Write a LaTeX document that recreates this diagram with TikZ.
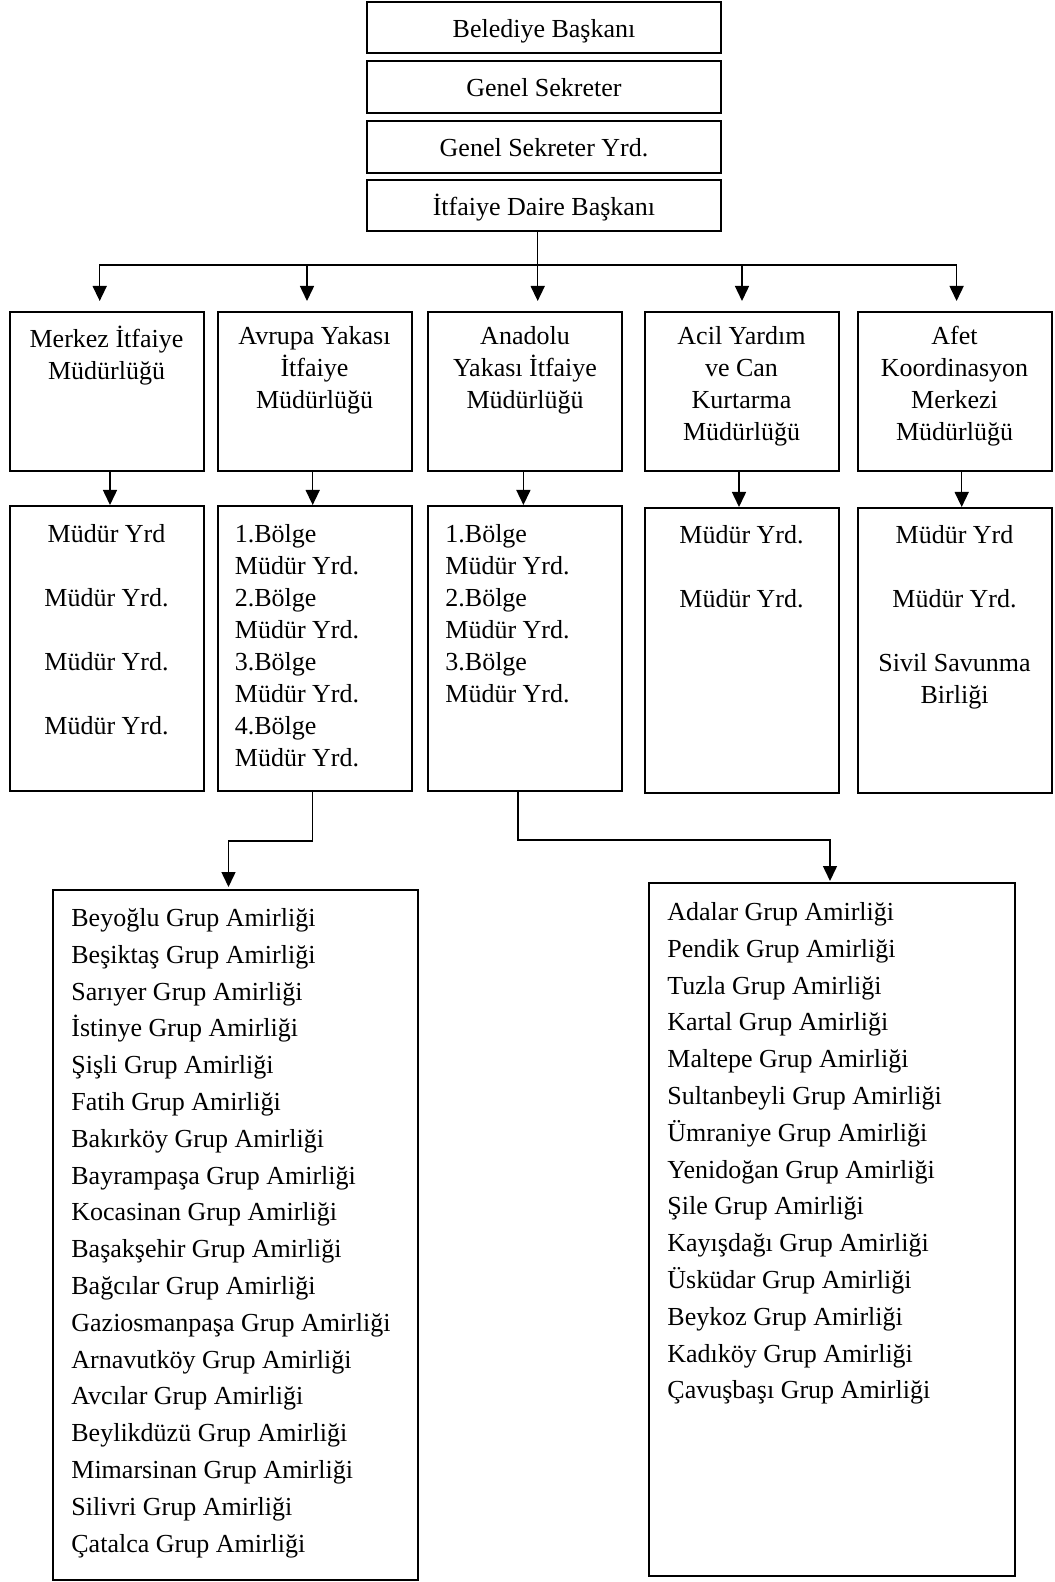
\documentclass[tikz,border=0pt]{standalone}
\usepackage{fontspec}
\setmainfont{Liberation Serif}
\usepackage{tikz}
\usetikzlibrary{arrows.meta}

\begin{document}
\begin{tikzpicture}[x=0.5pt,y=-0.5pt,
	box/.style={draw,line width=1pt,inner sep=0pt},
	topbox/.style={box,minimum width=177pt,minimum height=25.75pt,font=\fontsize{13}{16}\selectfont,text height=11.2pt,text depth=1.5pt},
	unit/.style={box,minimum width=97pt,minimum height=79.5pt},
	yrd/.style={box,minimum width=97pt,minimum height=142.5pt},
	txt/.style={inner sep=0pt,font=\fontsize{13}{16}\selectfont},
	list/.style={inner sep=0pt,align=left,anchor=north west,font=\fontsize{13}{18.4}\selectfont},
	conn/.style={line width=0.75pt},
	arr/.style={conn,-{Triangle[length=7.5pt,width=7pt]}}]
	\useasboundingbox (0,0) rectangle (1054,1582);
	
	% top chain
	\node[topbox] (baskan) at (544,27.5) {Belediye Başkanı};
	\node[topbox] (gensek) at (544,87) {Genel Sekreter};
	\node[topbox] (gensekyrd) at (544,147) {Genel Sekreter Yrd.};
	\node[topbox] (daire) at (544,205.5) {İtfaiye Daire Başkanı};
	
	% directorates
	\node[unit] (merkez) at (106.5,391.5) {};
	\node[unit] (avrupa) at (314.5,391.5) {};
	\node[unit] (anadolu) at (525,391.5) {};
	\node[unit] (acil) at (741.5,391.5) {};
	\node[unit] (afet) at (954.5,391.5) {};
	\node[txt,align=center,anchor=north] (merkez-t) at ([yshift=-7.5pt]merkez.north) {Merkez İtfaiye\\Müdürlüğü};
	\node[txt,align=center,anchor=north] (avrupa-t) at ([yshift=-7.5pt]avrupa.north) {Avrupa Yakası\\İtfaiye\\Müdürlüğü};
	\node[txt,align=center,anchor=north] (anadolu-t) at ([yshift=-7.5pt]anadolu.north) {Anadolu\\Yakası İtfaiye\\Müdürlüğü};
	\node[txt,align=center,anchor=north] (acil-t) at ([yshift=-7.5pt]acil.north) {Acil Yardım\\ve Can\\Kurtarma\\Müdürlüğü};
	\node[txt,align=center,anchor=north] (afet-t) at ([yshift=-7.5pt]afet.north) {Afet\\Koordinasyon\\Merkezi\\Müdürlüğü};
	
	% deputies
	\node[yrd] (merkez-yrd) at (106.5,648.5) {};
	\node[yrd] (avrupa-yrd) at (314.5,648.5) {};
	\node[yrd] (anadolu-yrd) at (525,648.5) {};
	\node[yrd] (acil-yrd) at (741.5,650.5) {};
	\node[yrd] (afet-yrd) at (954.5,650.5) {};
	\node[txt,align=center,anchor=north] (merkez-yrd-t) at ([yshift=-9.5pt]merkez-yrd.north) {Müdür Yrd\\[16pt]Müdür Yrd.\\[16pt]Müdür Yrd.\\[16pt]Müdür Yrd.};
	\node[txt,align=left,anchor=north west] (avrupa-yrd-t) at ([xshift=9pt,yshift=-9.5pt]avrupa-yrd.north west) {1.Bölge\\Müdür Yrd.\\2.Bölge\\Müdür Yrd.\\3.Bölge\\Müdür Yrd.\\4.Bölge\\Müdür Yrd.};
	\node[txt,align=left,anchor=north west] (anadolu-yrd-t) at ([xshift=9pt,yshift=-9.5pt]anadolu-yrd.north west) {1.Bölge\\Müdür Yrd.\\2.Bölge\\Müdür Yrd.\\3.Bölge\\Müdür Yrd.};
	\node[txt,align=center,anchor=north] (acil-yrd-t) at ([yshift=-8.8pt]acil-yrd.north) {Müdür Yrd.\\[16pt]Müdür Yrd.};
	\node[txt,align=center,anchor=north] (afet-yrd-t) at ([yshift=-8.8pt]afet-yrd.north) {Müdür Yrd\\[16pt]Müdür Yrd.\\[16pt]Sivil Savunma\\Birliği};
	
	% group commands
	\node[box,minimum width=182.5pt,minimum height=345pt] (avrupa-grup) at (235.5,1235) {};
	\node[box,minimum width=183pt,minimum height=346.5pt] (anadolu-grup) at (832,1229.5) {};
	\node[list] (avrupa-grup-t) at ([xshift=9.5pt,yshift=-9.5pt]avrupa-grup.north west) {Beyoğlu Grup Amirliği\\Beşiktaş Grup Amirliği\\Sarıyer Grup Amirliği\\İstinye Grup Amirliği\\Şişli Grup Amirliği\\Fatih Grup Amirliği\\Bakırköy Grup Amirliği\\Bayrampaşa Grup Amirliği\\Kocasinan Grup Amirliği\\Başakşehir Grup Amirliği\\Bağcılar Grup Amirliği\\Gaziosmanpaşa Grup Amirliği\\Arnavutköy Grup Amirliği\\Avcılar Grup Amirliği\\Beylikdüzü Grup Amirliği\\Mimarsinan Grup Amirliği\\Silivri Grup Amirliği\\Çatalca Grup Amirliği};
	\node[list] (anadolu-grup-t) at ([xshift=9.5pt,yshift=-10pt]anadolu-grup.north west) {Adalar Grup Amirliği\\Pendik Grup Amirliği\\Tuzla Grup Amirliği\\Kartal Grup Amirliği\\Maltepe Grup Amirliği\\Sultanbeyli Grup Amirliği\\Ümraniye Grup Amirliği\\Yenidoğan Grup Amirliği\\Şile Grup Amirliği\\Kayışdağı Grup Amirliği\\Üsküdar Grup Amirliği\\Beykoz Grup Amirliği\\Kadıköy Grup Amirliği\\Çavuşbaşı Grup Amirliği};
	
	% connectors
	\coordinate (bus) at (537.7,265);
	\draw[arr] ([xshift=-3.15pt]daire.south) -- ([xshift=6.35pt,yshift=5pt]anadolu.north);
	\foreach \n/\dx in {merkez/-3.4,avrupa/-3.75,acil/0.25,afet/1.05}
	\draw[arr] (bus) -| ([xshift=\dx pt,yshift=5pt]\n.north);
	\foreach \n/\dx in {merkez/1.75,avrupa/-0.9,anadolu/-0.8,acil/-1.25,afet/3.6}
	\draw[arr] ([xshift=\dx pt]\n.south) -- ([xshift=\dx pt]\n-yrd.north);
	\draw[arr] ([xshift=-0.9pt]avrupa-yrd.south) -- ++(0,-24.5pt) -| ([xshift=-3.5pt,yshift=1pt]avrupa-grup.north);
	\draw[arr] ([xshift=-3.45pt]anadolu-yrd.south) -- ++(0,-24pt) -| ([xshift=-1pt,yshift=0.5pt]anadolu-grup.north);
	
\end{tikzpicture}
\end{document}
